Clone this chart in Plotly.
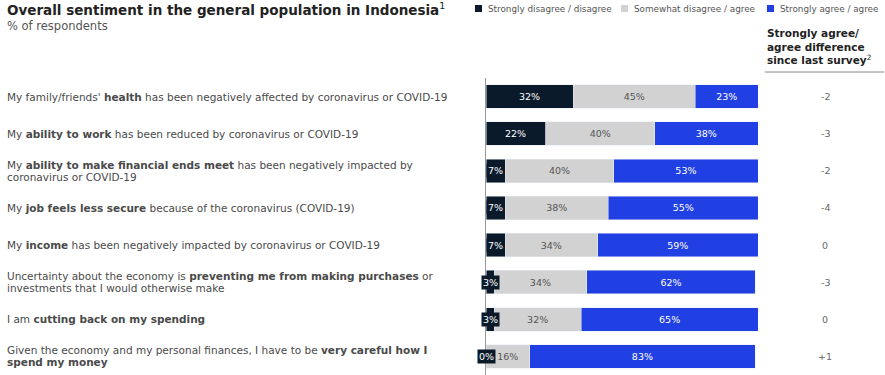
import plotly.graph_objects as go

W, H = 885, 375
TOP, BOTTOM = 78, 0

statements = [
    "My family/friends' <b>health</b> has been negatively affected by coronavirus or COVID-19",
    "My <b>ability to work</b> has been reduced by coronavirus or COVID-19",
    "My <b>ability to make financial ends meet</b> has been negatively impacted by<br>coronavirus or COVID-19",
    "My <b>job feels less secure</b> because of the coronavirus (COVID-19)",
    "My <b>income</b> has been negatively impacted by coronavirus or COVID-19",
    "Uncertainty about the economy is <b>preventing me from making purchases</b> or<br>investments that I would otherwise make",
    "I am <b>cutting back on my spending</b>",
    "Given the economy and my personal finances, I have to be <b>very careful how I</b><br><b>spend my money</b>",
]
disagree = [32, 22, 7, 7, 7, 3, 3, 0]
somewhat = [45, 40, 40, 38, 34, 34, 32, 16]
agree = [23, 38, 53, 55, 59, 62, 65, 83]
diff = ["-2", "-3", "-2", "-4", "0", "-3", "0", "+1"]
series_names = ["Strongly disagree / disagree", "Somewhat disagree / agree", "Strongly agree / agree"]

DARK = "#0a1a2b"
GRAY = "#d2d2d2"
BLUE = "#2140e3"
FONT = "DejaVu Sans, Arial, sans-serif"

cats = list(range(len(statements)))

def px(x):
    return x / W

def py(y):
    return (H - BOTTOM - y) / (H - TOP - BOTTOM)

fig = go.Figure()
fig.add_trace(go.Bar(y=cats, x=disagree, orientation="h", marker_color=DARK,
                     name=series_names[0], showlegend=False, hoverinfo="x"))
fig.add_trace(go.Bar(y=cats, x=somewhat, orientation="h", marker_color=GRAY,
                     name=series_names[1], showlegend=False,
                     text=[f"{v}%" for v in somewhat], textposition="inside",
                     insidetextanchor="middle", textangle=0,
                     textfont=dict(size=9.5, color="#555555", family=FONT)))
fig.add_trace(go.Bar(y=cats, x=agree, orientation="h", marker_color=BLUE,
                     name=series_names[2], showlegend=False,
                     text=[f"{v}%" for v in agree], textposition="inside",
                     insidetextanchor="middle", textangle=0,
                     textfont=dict(size=9.5, color="white", family=FONT)))

ann = []
shapes = []
# dark segment labels
for i, v in enumerate(disagree):
    ann.append(dict(x=v / 2, y=i, xref="x", yref="y", text=f"{v}%", showarrow=False,
                    font=dict(size=9.5, color="white", family=FONT),
                    bgcolor=DARK, borderpad=1))
# statement labels (each line placed separately for tight line spacing)
LINE_GAP = 12
for i, s in enumerate(statements):
    lines = s.split("<br>")
    n = len(lines)
    for k, line in enumerate(lines):
        shift = ((n - 1) / 2 - k) * LINE_GAP
        ann.append(dict(x=px(5), y=i, xref="paper", yref="y", text=line, showarrow=False,
                        xanchor="left", yanchor="middle", align="left", yshift=shift,
                        font=dict(size=10.5, color="#4a4a4a", family=FONT)))
# diff column
for i, d in enumerate(diff):
    ann.append(dict(x=px(825), y=i, xref="paper", yref="y", text=d, showarrow=False,
                    xanchor="center", font=dict(size=9.5, color="#666666", family=FONT)))

# title
ann.append(dict(x=px(5), y=py(9), xref="paper", yref="paper", xanchor="left", yanchor="middle",
                text="<b>Overall sentiment in the general population in Indonesia</b><sup>1</sup>",
                showarrow=False, font=dict(size=13.5, color="#222222", family=FONT)))
ann.append(dict(x=px(5), y=py(26), xref="paper", yref="paper", xanchor="left", yanchor="middle",
                text="% of respondents", showarrow=False,
                font=dict(size=11.5, color="#555555", family=FONT)))
# header of diff column
ann.append(dict(x=px(765), y=py(47), xref="paper", yref="paper", xanchor="left", yanchor="middle",
                align="left",
                text="<b>Strongly agree/<br>agree difference<br>since last survey</b><sup>2</sup>",
                showarrow=False, font=dict(size=10.5, color="#222222", family=FONT)))
shapes.append(dict(type="line", xref="paper", yref="paper", x0=px(765), x1=px(884),
                   y0=py(72), y1=py(72), line=dict(color="#888888", width=1)))

# legend (manual)
leg = [(475, DARK, series_names[0]), (621, GRAY, series_names[1]), (767, BLUE, series_names[2])]
for x0, c, t in leg:
    shapes.append(dict(type="rect", xref="paper", yref="paper",
                       x0=px(x0), x1=px(x0 + 7), y0=py(5), y1=py(12),
                       fillcolor=c, line=dict(width=0)))
    ann.append(dict(x=px(x0 + 11), y=py(8.5), xref="paper", yref="paper", xanchor="left",
                    yanchor="middle", text=t, showarrow=False,
                    font=dict(size=8.8, color="#555555", family=FONT)))

fig.update_layout(
    barmode="stack",
    width=W, height=H,
    margin=dict(l=0, r=0, t=TOP, b=BOTTOM),
    paper_bgcolor="white", plot_bgcolor="white",
    bargap=0.37,
    xaxis=dict(domain=[486 / W, 758 / W], range=[0, 100], showgrid=False,
               showticklabels=False, zeroline=False, fixedrange=True),
    yaxis=dict(range=[len(cats) - 0.5, -0.5], showgrid=False, showticklabels=False,
               zeroline=False, showline=True, linecolor="#999999", linewidth=1),
    annotations=ann, shapes=shapes,
    font=dict(family=FONT),
)
fig.write_html("out.html")
